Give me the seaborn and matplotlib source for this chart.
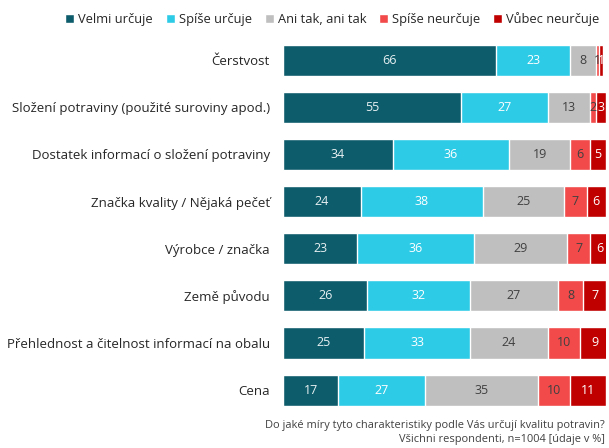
import numpy as np
import pandas as pd
import matplotlib
matplotlib.use("Agg")
import matplotlib.pyplot as plt
import seaborn as sns

categories = [
    "Čerstvost",
    "Složení potraviny (použité suroviny apod.)",
    "Dostatek informací o složení potraviny",
    "Značka kvality / Nějaká pečeť",
    "Výrobce / značka",
    "Země původu",
    "Přehlednost a čitelnost informací na obalu",
    "Cena",
]
series_names = ["Velmi určuje", "Spíše určuje", "Ani tak, ani tak", "Spíše neurčuje", "Vůbec neurčuje"]
velmi = [66, 55, 34, 24, 23, 26, 25, 17]
spise = [23, 27, 36, 38, 36, 32, 33, 27]
ani = [8, 13, 19, 25, 29, 27, 24, 35]
spise_ne = [1, 2, 6, 7, 7, 8, 10, 10]
vubec = [1, 3, 5, 6, 6, 7, 9, 11]

colors = ["#0d5c6b", "#2ecbe7", "#bfbfbf", "#f24a4a", "#c00000"]
label_colors = ["#e8f0f2", "#ffffff", "#404040", "#404040", "#ffffff"]

sns.set_theme(style="white")
plt.rcParams["font.family"] = ["Open Sans", "DejaVu Sans"]

values = np.array([velmi, spise, ani, spise_ne, vubec], dtype=float)
cum = np.cumsum(values, axis=0)

fig = plt.figure(figsize=(6.09, 4.48), dpi=100)
ax = fig.add_axes([0.465, 0.066, 0.53, 0.863])

# stacked bars: draw cumulative totals from the widest down so each segment shows
for i in range(len(series_names) - 1, -1, -1):
    df = pd.DataFrame({"cat": categories, "val": cum[i]})
    sns.barplot(data=df, x="val", y="cat", orient="h", color=colors[i],
                width=0.66, saturation=1, ax=ax, label=series_names[i])

# segment value labels
for i in range(len(series_names)):
    for j in range(len(categories)):
        v = values[i, j]
        left = cum[i, j] - v
        ax.text(left + v / 2, j, f"{int(v)}", ha="center", va="center",
                fontsize=9, color=label_colors[i])

ax.set_xlim(0, 100)
ax.set_ylim(7.6, -0.6)
ax.set_xlabel("")
ax.set_ylabel("")
ax.set_xticks([])
ax.tick_params(axis="y", length=0, pad=9.5, labelsize=9.5, labelcolor="#262626")
for s in ax.spines.values():
    s.set_visible(False)

handles, labels = ax.get_legend_handles_labels()
order = [labels.index(n) for n in series_names]
fig.legend([handles[k] for k in order], series_names, loc="upper right",
           bbox_to_anchor=(1.003, 1.0), ncol=5, frameon=False, fontsize=9.3,
           handlelength=0.7, handleheight=0.7, handletextpad=0.3,
           columnspacing=1.0, labelcolor="#262626")
if ax.get_legend() is not None:
    ax.get_legend().remove()

fig.text(0.993, 0.051, "Do jaké míry tyto charakteristiky podle Vás určují kvalitu potravin?",
         ha="right", va="center", fontsize=7.9, color="#404040")
fig.text(0.993, 0.018, "Všichni respondenti, n=1004 [údaje v %]",
         ha="right", va="center", fontsize=7.9, color="#404040")

fig.savefig("out.png", dpi=100)
